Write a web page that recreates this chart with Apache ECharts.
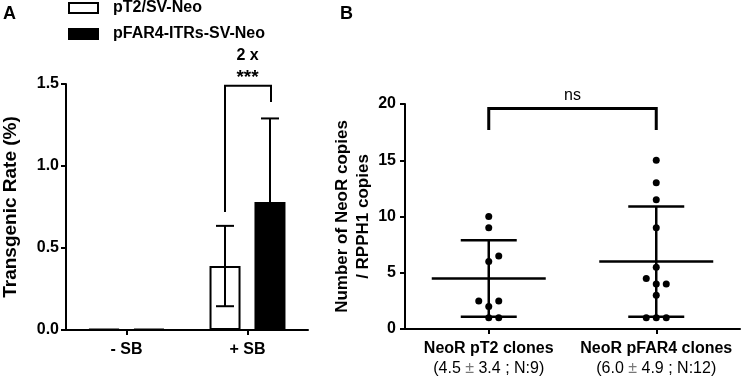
<!DOCTYPE html>
<html>
<head>
<meta charset="utf-8">
<script src="https://cdn.jsdelivr.net/npm/echarts@6/dist/echarts.min.js"></script>
<style>
html, body { margin: 0; padding: 0; background: #fff; }
#chart { width: 744px; height: 377px; }
</style>
</head>
<body>
<div id="chart"></div>
<script>
// panel A : transgenic rate
var groupsA = ['- SB', '+ SB']
var pT2Mean = [0.005, 0.39]
var pT2Sd = [0, 0.245]
var pFAR4Mean = [0.006, 0.78]
var pFAR4Sd = [0, 0.51]
var ticksA = [0, 0.5, 1.0, 1.5]

// panel B : NeoR copies per clone
var groupsB = ['NeoR pT2 clones', 'NeoR pFAR4 clones']
var statsB = ['(4.5 ± 3.4 ; N:9)', '(6.0 ± 4.9 ; N:12)']
var pT2Copies = [10, 9, 6.5, 6, 2.5, 2.5, 2, 1, 1]
var pFAR4Copies = [15, 13, 11.5, 9, 5.5, 4.5, 4, 4, 3, 1, 1, 1]
var copiesMean = [4.5, 6.0]
var copiesSd = [3.4, 4.9]
var ticksB = [0, 5, 10, 15, 20]

// horizontal jitter of the dots (px), like prism does it
var pT2Jitter = [0, 0, 10, 0, -10, 10, 0, 0, 10]
var pFAR4Jitter = [0, 0, 0, 0, 0, -10, 0, 10, 0, -10, 0, 10]

var FONT = 'Liberation Sans, Arial, sans-serif'
var barOffset = 22.5

var chart = echarts.init(document.getElementById('chart'))

function errorBars(offset, means, sds) {
  return {
    type: 'custom',
    xAxisIndex: 0,
    yAxisIndex: 0,
    z: 5,
    silent: true,
    data: means.map(function (m, i) { return [i, m, sds[i]] }),
    renderItem: function (params, api) {
      var m = api.value(1), s = api.value(2)
      if (!s) return
      var top = api.coord([api.value(0), m + s])
      var bot = api.coord([api.value(0), m - s])
      var x = top[0] + offset
      var st = { stroke: '#000', lineWidth: 2 }
      return {
        type: 'group',
        children: [
          { type: 'line', shape: { x1: x, y1: top[1], x2: x, y2: bot[1] }, style: st },
          { type: 'line', shape: { x1: x - 9, y1: top[1], x2: x + 9, y2: top[1] }, style: st },
          { type: 'line', shape: { x1: x - 9, y1: bot[1], x2: x + 9, y2: bot[1] }, style: st }
        ]
      }
    }
  }
}

function meanSd(idx) {
  return {
    type: 'custom',
    xAxisIndex: 1,
    yAxisIndex: 1,
    z: 4,
    silent: true,
    data: [[idx, copiesMean[idx], copiesSd[idx]]],
    renderItem: function (params, api) {
      var m = api.value(1), s = api.value(2)
      var c = api.coord([api.value(0), m])
      var hi = api.coord([api.value(0), m + s])
      var lo = api.coord([api.value(0), m - s])
      var st = { stroke: '#000', lineWidth: 2.5 }
      return {
        type: 'group',
        children: [
          { type: 'line', shape: { x1: c[0] - 57, y1: c[1], x2: c[0] + 57, y2: c[1] }, style: st },
          { type: 'line', shape: { x1: c[0], y1: hi[1], x2: c[0], y2: lo[1] }, style: st },
          { type: 'line', shape: { x1: c[0] - 28, y1: hi[1], x2: c[0] + 28, y2: hi[1] }, style: st },
          { type: 'line', shape: { x1: c[0] - 28, y1: lo[1], x2: c[0] + 28, y2: lo[1] }, style: st }
        ]
      }
    }
  }
}

function dots(idx, values, jitter) {
  return {
    type: 'scatter',
    xAxisIndex: 1,
    yAxisIndex: 1,
    symbol: 'circle',
    symbolSize: 7,
    z: 6,
    itemStyle: { color: '#000', opacity: 1 },
    data: values.map(function (v, i) {
      return { value: [idx, v], symbolOffset: [jitter[i], 0] }
    })
  }
}

var axisLineStyle = { lineStyle: { color: '#000', width: 2 } }
var tickStyle = { show: true, length: 5, lineStyle: { color: '#000', width: 2 } }

chart.setOption({
  animation: false,
  legend: {
    orient: 'vertical',
    left: 68,
    top: 0,
    padding: 0,
    icon: 'rect',
    itemWidth: 29,
    itemHeight: 10,
    itemGap: 10,
    textStyle: { fontFamily: FONT, fontWeight: 'bold', fontSize: 16, color: '#000', padding: [0, 0, 0, 10] },
    data: ['pT2/SV-Neo', 'pFAR4-ITRs-SV-Neo']
  },
  title: [
    { text: 'A', left: 3, top: 5, padding: 0, textStyle: { fontFamily: FONT, fontSize: 18, fontWeight: 'bold', color: '#000' } },
    { text: 'B', left: 340, top: 5, padding: 0, textStyle: { fontFamily: FONT, fontSize: 18, fontWeight: 'bold', color: '#000' } }
  ],
  grid: [
    { left: 63, top: 84, width: 245, bottom: 47 },
    { left: 405, top: 104, width: 335, bottom: 47 }
  ],
  xAxis: [
    {
      type: 'category',
      gridIndex: 0,
      data: groupsA,
      axisLine: axisLineStyle,
      axisTick: Object.assign({ alignWithLabel: true }, tickStyle),
      axisLabel: { fontFamily: FONT, fontWeight: 'bold', fontSize: 16, color: '#000', margin: 12 }
    },
    {
      type: 'category',
      gridIndex: 1,
      data: groupsB,
      axisLine: axisLineStyle,
      axisTick: Object.assign({ alignWithLabel: true }, tickStyle),
      axisLabel: {
        margin: 10,
        interval: 0,
        formatter: function (v, i) {
          var s = statsB[i].split('±')
          return '{b|' + v + '}\n{n|' + s[0] + '}{g|±}{n|' + s[1] + '}'
        },
        rich: {
          b: { fontFamily: FONT, fontWeight: 'bold', fontSize: 16, color: '#000', lineHeight: 20 },
          n: { fontFamily: FONT, fontSize: 16, color: '#000', lineHeight: 20 },
          g: { fontFamily: FONT, fontSize: 16, color: '#777', lineHeight: 20 }
        }
      }
    }
  ],
  yAxis: [
    {
      type: 'value',
      gridIndex: 0,
      min: ticksA[0],
      max: ticksA[ticksA.length - 1],
      interval: 0.5,
      name: 'Transgenic Rate (%)',
      nameLocation: 'middle',
      nameGap: 46,
      nameTextStyle: { fontFamily: FONT, fontWeight: 'bold', fontSize: 19, color: '#000' },
      axisLine: Object.assign({ show: true }, axisLineStyle),
      axisTick: tickStyle,
      splitLine: { show: false },
      axisLabel: {
        fontFamily: FONT, fontWeight: 'bold', fontSize: 16, color: '#000', margin: 7,
        formatter: function (v) { return v.toFixed(1) }
      }
    },
    {
      type: 'value',
      gridIndex: 1,
      min: ticksB[0],
      max: ticksB[ticksB.length - 1],
      interval: 5,
      name: 'Number of NeoR copies\n/ RPPH1 copies',
      nameLocation: 'middle',
      nameGap: 26,
      nameTextStyle: { fontFamily: FONT, fontWeight: 'bold', fontSize: 17, color: '#000', lineHeight: 21 },
      axisLine: Object.assign({ show: true }, axisLineStyle),
      axisTick: tickStyle,
      splitLine: { show: false },
      axisLabel: { fontFamily: FONT, fontWeight: 'bold', fontSize: 16, color: '#000', margin: 9 }
    }
  ],
  series: [
    {
      name: 'pT2/SV-Neo',
      type: 'bar',
      xAxisIndex: 0,
      yAxisIndex: 0,
      barWidth: 31,
      barGap: '45%',
      itemStyle: { color: '#fff', borderColor: '#000', borderWidth: 2 },
      data: pT2Mean
    },
    {
      name: 'pFAR4-ITRs-SV-Neo',
      type: 'bar',
      xAxisIndex: 0,
      yAxisIndex: 0,
      barWidth: 31,
      barGap: '45%',
      itemStyle: { color: '#000', borderColor: '#000', borderWidth: 2 },
      data: pFAR4Mean
    },
    errorBars(-barOffset, pT2Mean, pT2Sd),
    errorBars(barOffset, pFAR4Mean, pFAR4Sd),
    {
      // significance bracket, panel A
      type: 'custom',
      xAxisIndex: 0,
      yAxisIndex: 0,
      z: 5,
      silent: true,
      data: [[1, 0.72, 1.49, 1.39]],
      renderItem: function (params, api) {
        var i = api.value(0)
        var l = api.coord([i, api.value(1)])
        var t = api.coord([i, api.value(2)])
        var r = api.coord([i, api.value(3)])
        var x0 = l[0] - barOffset, x1 = l[0] + barOffset + 1
        var cx = l[0]
        return {
          type: 'group',
          children: [
            { type: 'polyline', shape: { points: [[x0, l[1]], [x0, t[1]], [x1, t[1]], [x1, r[1]]] },
              style: { stroke: '#000', lineWidth: 2, fill: null } },
            { type: 'text', x: cx, y: t[1] - 8,
              style: { text: '***', font: 'bold 19px ' + FONT, fill: '#000', align: 'center', verticalAlign: 'middle' } },
            { type: 'text', x: cx, y: t[1] - 30,
              style: { text: '2 x', font: 'bold 16px ' + FONT, fill: '#000', align: 'center', verticalAlign: 'middle' } }
          ]
        }
      }
    },
    meanSd(0),
    meanSd(1),
    dots(0, pT2Copies, pT2Jitter),
    dots(1, pFAR4Copies, pFAR4Jitter),
    {
      // "ns" bracket, panel B
      type: 'custom',
      xAxisIndex: 1,
      yAxisIndex: 1,
      z: 5,
      silent: true,
      data: [[0, 1, 17.7, 19.6]],
      renderItem: function (params, api) {
        var a = api.coord([api.value(0), api.value(2)])
        var b = api.coord([api.value(1), api.value(3)])
        return {
          type: 'group',
          children: [
            { type: 'polyline', shape: { points: [[a[0], a[1]], [a[0], b[1]], [b[0], b[1]], [b[0], a[1]]] },
              style: { stroke: '#000', lineWidth: 3, fill: null } },
            { type: 'text', x: (a[0] + b[0]) / 2, y: b[1] - 13,
              style: { text: 'ns', font: '16px ' + FONT, fill: '#000', align: 'center', verticalAlign: 'middle' } }
          ]
        }
      }
    }
  ]
})
</script>
</body>
</html>
